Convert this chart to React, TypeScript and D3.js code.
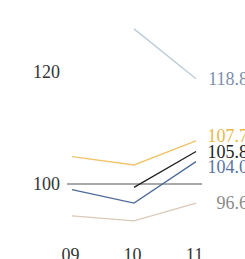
import React from "react";
import * as d3 from "d3";

const width = 245;
const height = 259;
const font = "'Liberation Serif', 'DejaVu Serif', serif";

// data
const years = ["09", "10", "11"];
const topGray = [null, 127.7, 118.8];
const yellow = [104.9, 103.4, 107.7];
const black = [null, 99.4, 105.8];
const blue = [99.0, 96.6, 104.0];
const beige = [94.3, 93.4, 96.6];
const yTicks = [100, 120];

const series = [
  { name: "topGray", values: topGray, stroke: "#bccbd6", text: "#7d8fab" },
  { name: "yellow", values: yellow, stroke: "#f0c46a", text: "#e8b84a" },
  { name: "black", values: black, stroke: "#1e1e1e", text: "#1e1e1e" },
  { name: "blue", values: blue, stroke: "#4d6a98", text: "#5a74a0" },
  { name: "beige", values: beige, stroke: "#d8c9b8", text: "#8a8a8a" }
];

const xScale = d3.scalePoint<string>().domain(years).range([72, 196]);
const yScale = d3.scaleLinear().domain([100, 120]).range([184, 72]);

const lineGenerator = d3
  .line<number | null>()
  .defined(d => d != null)
  .x((d, i) => xScale(years[i]) as number)
  .y(d => yScale(d as number));

// spread end labels so they do not overlap
function labelPositions() {
  const minGap = 15.5;
  const items = series.map(s => {
    const v = s.values[s.values.length - 1] as number;
    return { s, v, y: yScale(v) };
  });
  items.sort((a, b) => a.y - b.y);
  // group overlapping labels and centre each group on its mean
  let groups: { members: typeof items; center: number }[] = items.map(it => ({
    members: [it],
    center: it.y
  }));
  let merged = true;
  while (merged) {
    merged = false;
    for (let i = 0; i < groups.length - 1; i++) {
      const a = groups[i];
      const b = groups[i + 1];
      const aBottom = a.center + ((a.members.length - 1) * minGap) / 2;
      const bTop = b.center - ((b.members.length - 1) * minGap) / 2;
      if (bTop - aBottom < minGap) {
        const members = a.members.concat(b.members);
        const center = d3.mean(members, m => m.y) as number;
        groups.splice(i, 2, { members, center });
        merged = true;
        break;
      }
    }
  }
  const out: { s: typeof series[0]; v: number; y: number }[] = [];
  groups.forEach(g => {
    const start = g.center - ((g.members.length - 1) * minGap) / 2;
    g.members.forEach((m, k) => out.push({ s: m.s, v: m.v, y: start + k * minGap }));
  });
  return out;
}

export default function App() {
  const labels = labelPositions();
  const lastX = xScale(years[years.length - 1]) as number;
  return (
    <svg
      width={width}
      height={height}
      style={{ position: "absolute", left: 0, top: 0, background: "#fff" }}
      fontFamily={font}
    >
      {/* 100 reference line */}
      <line
        x1={67}
        x2={202}
        y1={yScale(100)}
        y2={yScale(100)}
        stroke="#555"
        strokeWidth={1}
      />
      {yTicks.map(t => (
        <text
          key={t}
          x={60}
          y={yScale(t)}
          dy="0.35em"
          textAnchor="end"
          fontSize={18}
          fill="#333"
        >
          {t}
        </text>
      ))}
      {series.map(s => (
        <path
          key={s.name}
          d={lineGenerator(s.values) || ""}
          fill="none"
          stroke={s.stroke}
          strokeWidth={1.3}
        />
      ))}
      {labels.map(l => (
        <text
          key={l.s.name}
          x={lastX + 52}
          y={l.y}
          dy="0.35em"
          textAnchor="end"
          fontSize={18}
          fill={l.s.text}
        >
          {l.v.toFixed(1)}
        </text>
      ))}
      {years.map(y => (
        <text
          key={y}
          x={(xScale(y) as number) - 1.5}
          y={261}
          textAnchor="middle"
          fontSize={18}
          fill="#333"
        >
          {y}
        </text>
      ))}
    </svg>
  );
}
